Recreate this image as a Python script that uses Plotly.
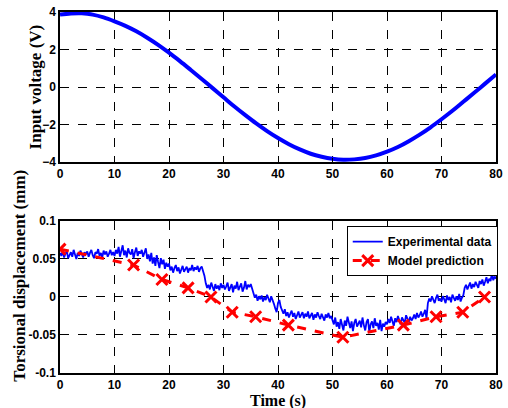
import plotly.graph_objects as go

# Input voltage, sampled every 2 s
volt_time = [0, 2, 4, 6, 8, 10, 12, 14, 16, 18, 20, 22, 24, 26, 28, 30, 32, 34, 36, 38,
             40, 42, 44, 46, 48, 50, 52, 54, 56, 58, 60, 62, 64, 66, 68, 70, 72, 74, 76, 78, 80]
voltage = [3.86, 3.92, 3.93, 3.86, 3.71, 3.50, 3.26, 2.97, 2.63, 2.25, 1.83, 1.38, 0.91, 0.43,
           -0.06, -0.55, -1.04, -1.50, -1.94, -2.35, -2.72, -3.05, -3.33, -3.56, -3.72, -3.83,
           -3.88, -3.86, -3.79, -3.65, -3.45, -3.20, -2.89, -2.54, -2.15, -1.72, -1.27, -0.79,
           -0.31, 0.18, 0.67]

# Measured torsional displacement (mm), sampled every 0.25 s (one row = 5 s)
exp_dt = 0.25
exp_disp = [
    0.058, 0.054, 0.061, 0.052, 0.057, 0.060, 0.051, 0.055, 0.059, 0.053,
    0.062, 0.056, 0.050, 0.058, 0.054, 0.061, 0.055, 0.052, 0.059, 0.056,
    0.060, 0.053, 0.058, 0.062, 0.055, 0.051, 0.059, 0.057, 0.063, 0.054,
    0.058, 0.052, 0.061, 0.056, 0.060, 0.053, 0.057, 0.062, 0.055, 0.059,
    0.054, 0.062, 0.057, 0.066, 0.053, 0.060, 0.068, 0.055, 0.061, 0.052,
    0.064, 0.058, 0.056, 0.063, 0.051, 0.059, 0.065, 0.054, 0.060, 0.057,
    0.062, 0.053, 0.059, 0.064, 0.050, 0.056, 0.047, 0.058, 0.044, 0.052,
    0.041, 0.055, 0.046, 0.038, 0.051, 0.043, 0.049, 0.037, 0.045, 0.040,
    0.044, 0.035, 0.040, 0.032, 0.038, 0.042, 0.034, 0.039, 0.031, 0.037,
    0.041, 0.033, 0.036, 0.040, 0.032, 0.038, 0.035, 0.042, 0.034, 0.039,
    0.036, 0.041, 0.033, 0.038, 0.040, 0.034, 0.028, 0.018, 0.012, 0.016,
    0.010, 0.019, 0.013, 0.008, 0.017, 0.011, 0.015, 0.009, 0.018, 0.012,
    0.016, 0.010, 0.014, 0.019, 0.008, 0.013, 0.017, 0.006, 0.015, 0.011,
    0.020, 0.009, 0.014, 0.018, 0.007, 0.012, 0.021, 0.010, 0.016, 0.013,
    0.017, 0.011, 0.004, -0.001, 0.003, -0.005, 0.001, -0.003, 0.002, -0.006,
    0.000, -0.004, 0.003, -0.002, -0.007, 0.001, -0.003, -0.009, -0.015, -0.020,
    -0.008, -0.004, -0.013, -0.018, -0.022, -0.016, -0.025, -0.020, -0.027, -0.022,
    -0.018, -0.026, -0.021, -0.029, -0.023, -0.019, -0.027, -0.024, -0.020, -0.028,
    -0.022, -0.026, -0.019, -0.028, -0.024, -0.021, -0.030, -0.023, -0.027, -0.020,
    -0.025, -0.029, -0.022, -0.026, -0.031, -0.023, -0.027, -0.021, -0.028, -0.025,
    -0.030, -0.036, -0.027, -0.039, -0.033, -0.042, -0.029, -0.035, -0.044, -0.031,
    -0.038, -0.026, -0.036, -0.041, -0.032, -0.045, -0.034, -0.029, -0.039, -0.035,
    -0.031, -0.040, -0.027, -0.037, -0.044, -0.033, -0.029, -0.046, -0.036, -0.032,
    -0.041, -0.028, -0.038, -0.034, -0.043, -0.030, -0.045, -0.035, -0.039, -0.033,
    -0.036, -0.029, -0.034, -0.026, -0.032, -0.038, -0.028, -0.033, -0.025, -0.031,
    -0.036, -0.027, -0.030, -0.034, -0.024, -0.029, -0.033, -0.026, -0.031, -0.028,
    -0.023, -0.029, -0.021, -0.027, -0.024, -0.019, -0.026, -0.022, -0.017, -0.028,
    -0.008, -0.002, -0.006, 0.001, -0.004, -0.008, -0.001, 0.003, -0.005, -0.002,
    -0.006, 0.001, -0.003, -0.008, 0.002, -0.004, 0.000, -0.007, 0.003, -0.002,
    -0.005, 0.001, -0.004, 0.004, -0.006, -0.001, 0.002, 0.012, 0.016, 0.010,
    0.015, 0.019, 0.011, 0.017, 0.013, 0.020, 0.016, 0.012, 0.021, 0.017,
    0.023, 0.015, 0.020, 0.026, 0.018, 0.024, 0.021, 0.031, 0.022, 0.027,
    0.024,
]
exp_time = [i * exp_dt for i in range(len(exp_disp))]

# Model prediction points
model_time = [0.0, 13.5, 18.7, 23.5, 27.7, 31.6, 35.9, 41.9, 51.9, 63.0, 69.0, 73.9, 77.9]
model_disp = [0.063, 0.042, 0.023, 0.012, 0.000, -0.020, -0.026, -0.037, -0.053,
              -0.037, -0.026, -0.020, 0.000]

x_ticks = [0, 10, 20, 30, 40, 50, 60, 70, 80]
volt_ticks = [-4, -2, 0, 2, 4]
disp_ticks = [-0.1, -0.05, 0, 0.05, 0.1]
disp_tick_text = ["-0.1", "-0.05", "0", "0.05", "0.1"]

tick_font = dict(family="Liberation Sans, Arial", size=12, color="black", weight="bold")
serif = "Liberation Serif, Times New Roman"

fig = go.Figure()

fig.add_trace(go.Scatter(
    x=volt_time, y=voltage, mode="lines", line=dict(color="#0000ff", width=4, shape="spline"),
    showlegend=False, xaxis="x", yaxis="y"))

fig.add_trace(go.Scatter(
    x=exp_time, y=exp_disp, mode="lines", name="Experimental data",
    line=dict(color="#0000ff", width=1.8), xaxis="x2", yaxis="y2"))

fig.add_trace(go.Scatter(
    x=model_time, y=model_disp, mode="lines+markers", name="Model prediction",
    line=dict(color="#ff0000", width=3, dash="dash"),
    marker=dict(symbol="x-thin", size=11, line=dict(color="#ff0000", width=3)),
    xaxis="x2", yaxis="y2"))

axis_common = dict(
    showline=True, linecolor="black", linewidth=1.5, mirror="ticks",
    ticks="inside", ticklen=4, tickcolor="black",
    showgrid=True, gridcolor="black", gridwidth=1, griddash="dash",
    zeroline=False, tickfont=tick_font,
)

fig.update_layout(
    width=508, height=408,
    margin=dict(l=60, r=5, t=12, b=35),
    paper_bgcolor="white", plot_bgcolor="white",
    xaxis=dict(domain=[0, 1], anchor="y", range=[0, 80], tickvals=x_ticks, **axis_common),
    yaxis=dict(domain=[0.5845, 1], anchor="x", range=[-4, 4], tickvals=volt_ticks, **axis_common),
    xaxis2=dict(domain=[0, 1], anchor="y2", range=[0, 80], tickvals=x_ticks, **axis_common),
    yaxis2=dict(domain=[0, 0.4211], anchor="x2", range=[-0.1, 0.1], tickvals=disp_ticks,
                ticktext=disp_tick_text, **axis_common),
    legend=dict(
        x=1.004, y=0.407, xanchor="right", yanchor="top",
        bgcolor="white", bordercolor="black", borderwidth=1,
        font=dict(family="Liberation Sans, Arial", size=12, color="black", weight="bold"),
        tracegroupgap=0, itemwidth=30,
    ),
    annotations=[
        dict(text="<b>Input voltage (V)</b>", textangle=-90, xref="paper", yref="paper",
             x=-0.0564, y=0.7922, xanchor="center", yanchor="middle", showarrow=False,
             font=dict(family=serif, size=17, color="black")),
        dict(text="<b>Torsional displacement (mm)</b>", textangle=-90, xref="paper", yref="paper",
             x=-0.0926, y=0.2687, xanchor="center", yanchor="middle", showarrow=False,
             font=dict(family=serif, size=17, color="black")),
        dict(text="<b>Time (s)</b>", xref="paper", yref="paper",
             x=0.5, y=-0.0762, xanchor="center", yanchor="middle", showarrow=False,
             font=dict(family=serif, size=16, color="black")),
    ],
)

fig.write_html("out.html")
